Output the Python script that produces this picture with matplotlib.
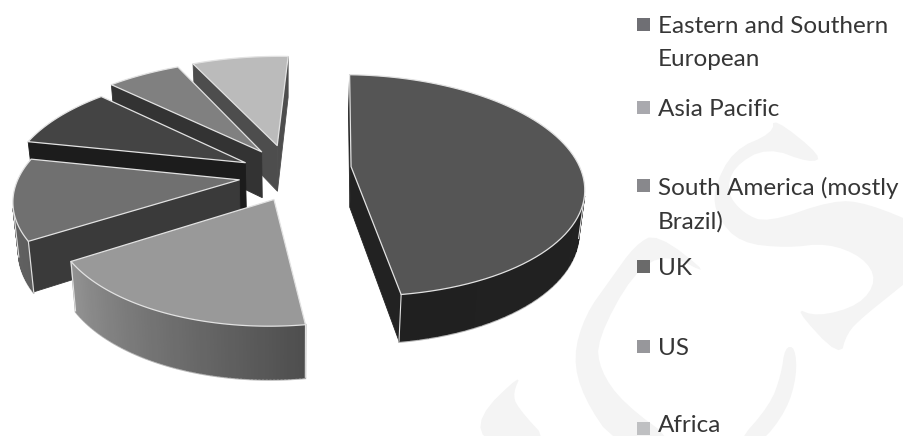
"""Exploded 3D pie of revenue by region, with the pale watermark behind it."""

import numpy as np
import matplotlib
matplotlib.use("Agg")
import matplotlib.pyplot as plt
from matplotlib.patches import Polygon, Rectangle

regions = ["Eastern and Southern\nEuropean", "Asia Pacific", "South America (mostly\nBrazil)", "UK", "US", "Africa"]
shares = [47.2, 18.3, 12.2, 8.9, 5.8, 7.8]
top_colors = ["#555555", "#999999", "#707070", "#444444", "#808080", "#bbbbbb"]
radial_colors = ["#222222", "#555555", "#3a3a3a", "#1c1c1c", "#333333", "#4d4d4d"]
# outer wall shade at the start and the end of each slice's arc
wall_start = ["#252525", "#4e4e4e", "#5e5e5e", "#2a2a2a", "#444444", "#666666"]
wall_end = ["#202020", "#929292", "#666666", "#2a2a2a", "#444444", "#666666"]
legend_colors = ["#6f6f74", "#a9a9ae", "#88888c", "#6a6a6a", "#97979b", "#bfc0c2"]
legend_y = [24, 107, 185, 266, 346, 428]
legend_text_y = [16, 99, 177, 258, 338, 415]
# fudge per slice, the simple projection below is not quite the one in the picture
slice_radius = [1.0, 0.91, 0.96, 1.03, 1.08, 1.05]
slice_nudge = [(2, -2), (7, 4), (4, 5), (3, 5), (2, 3), (-4, 1)]
slice_height = [41, 45, 47, 47, 47, 47]

# watermark outlines
mark_s = [(773, 117), (823, 157), (810, 163), (767, 147), (733, 167), (727, 193), (743, 213), (767, 223),
          (833, 200), (867, 203), (925, 227), (925, 267), (893, 293), (863, 317), (847, 333), (840, 358),
          (793, 307), (817, 317), (860, 305), (877, 280), (863, 257), (827, 243), (787, 248), (740, 243),
          (717, 217), (713, 190), (733, 150), (773, 133)]
mark_c = [(657, 233), (713, 277), (667, 253), (633, 273), (597, 340), (600, 370), (623, 403), (680, 445),
          (615, 445), (583, 397), (573, 357), (585, 315), (610, 280), (635, 245)]
mark_tail = [(785, 347), (795, 347), (797, 375), (787, 410), (760, 445), (735, 445), (770, 405), (781, 375)]
mark_foot = [(522, 373), (477, 417), (486, 445), (552, 445), (517, 407), (513, 393)]

CX, CY = 292, 170
A, B, K = 229, 108, 0.17
START_ANGLE = 2
EXPLODE = 0.25
BOTTOM_SCALE = 0.98
EDGE = "#e2e2e2"


def project(x, y, height=None):
    w = 1 + K * y
    px = A * x / w
    py = -B * y / w
    if height is not None:
        return CX + px * BOTTOM_SCALE, CY + py * BOTTOM_SCALE + height / w
    return CX + px, CY + py


def area(pts):
    pts = np.asarray(pts)
    x, y = pts[:, 0], pts[:, 1]
    return 0.5 * np.sum(x * np.roll(y, -1) - np.roll(x, -1) * y)


def hex_mix(c1, c2, t):
    a = np.array(matplotlib.colors.to_rgb(c1))
    b = np.array(matplotlib.colors.to_rgb(c2))
    return tuple(a + (b - a) * t)


def smooth(outline, rounds=2):
    # corner cutting, takes the hard angles off the hand-read outlines
    pts = np.asarray(outline, dtype=float)
    for _ in range(rounds):
        nxt = np.roll(pts, -1, axis=0)
        pts = np.column_stack([0.75 * pts + 0.25 * nxt, 0.25 * pts + 0.75 * nxt]).reshape(-1, 2)
    return pts


def wall(ax, p, q, color, z, nudge, height, lw=0.6):
    """Quad going down from the top edge p-q, drawn only if it faces the viewer."""
    top_p, top_q = project(*p), project(*q)
    bot_p, bot_q = project(*p, height=height), project(*q, height=height)
    quad = np.array([top_p, top_q, bot_q, bot_p])
    if area(quad) >= 0:
        return False
    ax.add_patch(Polygon(quad + nudge, closed=True, facecolor=color, edgecolor=color, lw=lw, zorder=z))
    return True


def draw_slice(ax, start, end, i, z):
    mid = np.radians((start + end) / 2)
    ox, oy = EXPLODE * np.sin(mid), EXPLODE * np.cos(mid)
    r = slice_radius[i]
    nudge = slice_nudge[i]
    h = slice_height[i]
    angles = np.radians(np.linspace(start, end, 80))
    rim = [(ox + r * np.sin(a), oy + r * np.cos(a)) for a in angles]
    apex = (ox, oy)

    # radial walls
    wall(ax, apex, rim[0], radial_colors[i], z, nudge, h)
    wall(ax, rim[-1], apex, radial_colors[i], z, nudge, h)

    # curved outer wall, shaded segment by segment
    front = []
    for j in range(len(rim) - 1):
        c = hex_mix(wall_start[i], wall_end[i], j / (len(rim) - 2))
        if wall(ax, rim[j], rim[j + 1], c, z + 0.1, nudge, h, lw=1.1):
            front.append(j)

    face = np.array([project(*apex)] + [project(*p) for p in rim]) + nudge
    ax.add_patch(Polygon(face, closed=True, facecolor=top_colors[i], edgecolor=EDGE, lw=0.9,
                         joinstyle="round", zorder=z + 0.2))

    if front:
        # soft grey rim under the wall
        low = np.array([project(*rim[j], height=h) for j in front + [front[-1] + 1]]) + nudge
        ax.plot(low[:, 0], low[:, 1] + 1, color="#b5b5b5", lw=1.2, zorder=z - 0.1)
        # light vertical edges at the corners of the visible walls
        for j in (front[0], front[-1] + 1):
            t = np.array(project(*rim[j])) + nudge
            b = np.array(project(*rim[j], height=h)) + nudge
            ax.plot([t[0], b[0]], [t[1], b[1]], color=EDGE, lw=0.8, zorder=z + 0.15)


def main():
    plt.rcParams["font.family"] = ["Lato", "DejaVu Sans"]
    fig = plt.figure(figsize=(9.04, 4.36), dpi=100)
    ax = fig.add_axes([0, 0, 1, 1])
    ax.set_xlim(0, 904)
    ax.set_ylim(436, 0)
    ax.axis("off")

    for outline in (mark_s, mark_c, mark_tail, mark_foot):
        ax.add_patch(Polygon(smooth(outline), closed=True, facecolor="#f4f4f4", edgecolor="none", zorder=0))

    edges = START_ANGLE + np.concatenate([[0], np.cumsum(shares)]) * 3.6
    # painter's order: back slices first, the front ones last
    for z, i in enumerate([5, 4, 3, 2, 0, 1]):
        draw_slice(ax, edges[i], edges[i + 1], i, 2 + z)

    for name, color, y, ty in zip(regions, legend_colors, legend_y, legend_text_y):
        ax.add_patch(Rectangle((637, y - 6), 13, 13, facecolor=color, edgecolor="none", zorder=10))
        ax.text(658, ty, name, fontsize=17.5, color="#363636", ha="left", va="top",
                linespacing=1.7, zorder=10)

    fig.savefig("out.png", dpi=100)


if __name__ == "__main__":
    main()
